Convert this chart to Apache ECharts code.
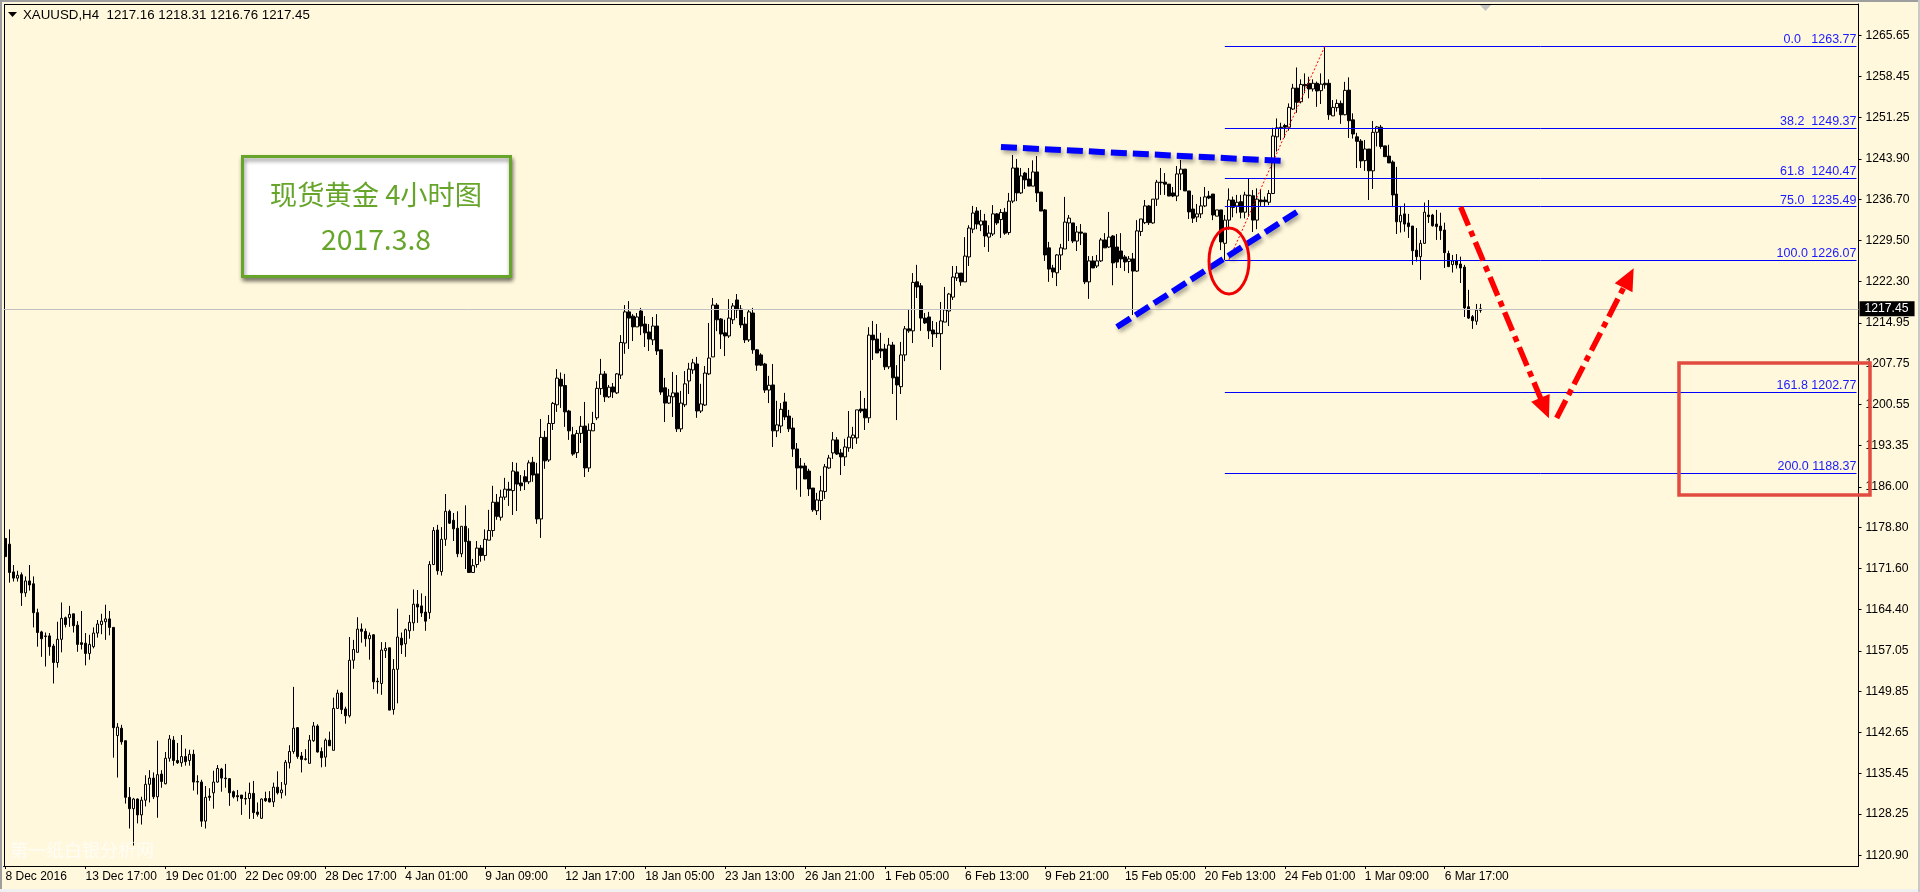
<!DOCTYPE html>
<html><head><meta charset="utf-8">
<style>html,body{margin:0;padding:0;background:#FFF8DC;overflow:hidden}#c{width:1920px;height:892px}</style>
<script src="https://cdn.jsdelivr.net/npm/echarts@6/dist/echarts.min.js"></script>
</head><body><div id="c"></div>
<script>
// [open, high, low, close]
const barsA=[[1176.9,1176.9,1173.7,1173.7],[1175.9,1178.5,1169.1,1170.9],[1171.0,1172.2,1169.3,1169.9],[1169.9,1171.2,1169.3,1170.4],[1170.5,1170.9,1165.0,1167.3],[1167.3,1170.2,1166.6,1169.4],[1169.4,1172.2,1167.7,1168.7],[1168.9,1170.2,1161.2,1163.8],[1163.8,1164.5,1157.8,1160.3],[1160.4,1160.6,1156.0,1159.2],[1159.7,1160.3,1154.3,1159.6],[1159.7,1160.2,1156.2,1157.8],[1157.9,1158.3,1151.3,1155.0],[1155.0,1162.2,1154.1,1159.1],[1159.1,1165.6,1156.8,1162.8],[1162.9,1163.1,1161.2,1161.7],[1162.9,1165.0,1161.3,1163.5],[1163.6,1163.6,1160.3,1161.5],[1161.6,1162.3,1156.9,1158.2],[1158.5,1164.1,1157.3,1158.2],[1158.4,1160.2,1154.5,1156.6],[1156.6,1159.9,1155.5,1158.2],[1157.8,1161.2,1157.5,1160.2],[1160.2,1162.5,1159.4,1161.8],[1161.7,1163.6,1160.0,1162.3],[1162.2,1165.2,1159.0,1162.7],[1162.7,1164.1,1159.8,1161.2],[1161.2,1161.2,1138.2,1143.5],[1142.1,1144.3,1134.7,1143.6],[1143.4,1144.0,1140.5,1141.0],[1141.2,1141.2,1130.1,1131.2],[1131.2,1133.0,1125.7,1129.2],[1129.2,1131.1,1122.7,1130.9],[1130.9,1131.0,1126.6,1128.1],[1128.1,1131.3,1126.4,1130.7],[1130.7,1135.1,1129.6,1133.5],[1133.5,1136.0,1130.3,1134.6],[1134.6,1135.6,1130.9,1131.3],[1131.3,1141.2,1127.6,1135.2],[1135.3,1136.0,1132.9,1134.0],[1133.6,1139.2,1133.5,1138.1],[1138.1,1142.2,1137.5,1141.5],[1141.3,1142.0,1136.8,1137.7],[1137.7,1140.8,1137.1,1137.3],[1137.3,1142.2,1136.6,1138.4],[1138.4,1139.8,1136.8,1137.5],[1137.7,1139.6,1136.8,1138.8],[1138.8,1139.6,1132.4,1133.9],[1134.0,1135.1,1131.7,1133.9],[1133.9,1134.3,1126.0,1127.0],[1127.0,1133.2,1125.7,1131.2],[1131.4,1132.8,1130.6,1131.2],[1132.0,1135.9,1129.2,1133.9],[1133.9,1136.9,1133.8,1136.3],[1136.2,1136.4,1132.2,1134.6],[1134.6,1137.1,1132.9,1134.5],[1134.5,1134.6,1129.7,1132.0],[1132.2,1132.4,1131.0,1131.3],[1131.5,1132.5,1130.5,1131.3],[1131.6,1131.6,1128.1,1131.0],[1131.0,1132.2,1129.9,1130.9],[1131.0,1133.8,1127.4,1131.9]];
const barsB=[[1131.9,1134.1,1127.4,1128.5],[1128.6,1130.3,1127.8,1128.2],[1127.5,1131.0,1127.4,1130.9],[1131.0,1132.2,1130.4,1130.6],[1131.0,1132.3,1130.3,1130.4],[1130.4,1133.8,1129.5,1133.0],[1133.0,1135.8,1131.7,1132.0],[1132.0,1133.9,1131.0,1132.5],[1133.5,1137.8,1131.5,1137.4],[1137.3,1140.4,1136.3,1139.3],[1139.3,1150.7,1138.9,1143.4],[1143.5,1143.6,1138.0,1138.4],[1138.5,1139.2,1135.6,1137.9],[1138.0,1139.7,1137.7,1137.9],[1137.2,1142.2,1137.2,1141.3],[1141.2,1144.5,1141.0,1143.8],[1143.8,1144.1,1139.1,1139.2],[1139.3,1140.0,1136.5,1138.2],[1138.3,1141.6,1136.6,1141.3],[1141.3,1142.8,1140.3,1140.3],[1139.5,1148.8,1139.5,1146.9],[1146.9,1150.2,1146.8,1149.6],[1149.6,1149.8,1145.9,1146.7],[1146.8,1147.2,1144.2,1145.6],[1145.6,1159.5,1145.3,1155.4],[1155.4,1159.0,1153.9,1157.3],[1156.8,1163.0,1156.8,1160.9],[1160.9,1161.9,1158.5,1160.5],[1160.5,1161.0,1157.8,1159.2],[1159.2,1160.3,1155.5,1159.8],[1159.9,1160.0,1150.3,1151.6],[1151.7,1152.3,1149.5,1151.6],[1151.3,1158.6,1149.3,1157.2],[1157.1,1158.6,1155.8,1157.5],[1157.6,1157.6,1146.6,1146.6],[1146.7,1155.6,1145.8,1153.8],[1153.8,1164.5,1147.8,1159.5],[1159.3,1160.3,1156.5,1158.1],[1158.3,1161.0,1156.0,1160.8],[1160.6,1163.4,1159.2,1162.1],[1162.0,1167.9,1160.6,1165.3],[1165.3,1167.8,1162.0,1164.8],[1165.0,1167.2,1163.05,1163.75],[1163.9,1166.75,1160.6,1162.3],[1163.8,1172.9,1162.7,1172.3],[1172.3,1178.9,1172.2,1178.3],[1178.4,1179.3,1170.5,1171.2],[1171.05,1178.9,1170.35,1176.75],[1176.75,1184.75,1175.6,1181.7],[1181.7,1182.0,1179.45,1179.6],[1180.1,1181.4,1176.45,1178.6],[1178.7,1181.7,1173.6,1174.2],[1174.2,1179.05,1173.6,1179.05],[1179.05,1182.75,1171.5,1176.35],[1176.4,1178.7,1170.9,1170.9],[1170.9,1173.3,1170.9,1172.1],[1172.3,1176.45,1171.75,1175.2],[1175.2,1175.75,1172.8,1173.9],[1173.9,1178.5,1173.0,1176.75],[1176.6,1181.95,1176.6,1178.3],[1178.3,1186.2,1177.2,1183.3],[1183.3,1184.75,1180.2,1180.8]];
const barsC=[[1180.65,1185.5,1180.05,1184.2],[1184.2,1187.6,1183.7,1185.6],[1185.6,1186.9,1182.65,1185.4],[1185.35,1190.4,1181.05,1188.8],[1188.65,1190.25,1181.75,1186.5],[1186.7,1188.1,1185.3,1186.2],[1187.8,1188.95,1185.45,1186.9],[1186.9,1190.7,1186.5,1190.25],[1190.35,1191.3,1186.9,1188.1],[1188.3,1190.25,1179.5,1180.35],[1180.35,1198.0,1177.0,1194.75],[1194.75,1195.9,1189.2,1190.6],[1190.75,1198.7,1190.4,1197.2],[1197.2,1201.0,1196.05,1200.75],[1200.5,1206.8,1199.25,1205.2],[1205.0,1206.2,1199.95,1203.8],[1203.9,1205.95,1196.6,1199.25],[1199.4,1199.6,1194.3,1195.9],[1195.2,1196.6,1191.5,1191.8],[1192.05,1196.05,1191.1,1195.45],[1195.45,1198.5,1193.75,1196.7],[1196.75,1201.0,1187.75,1189.35],[1189.35,1197.2,1188.65,1196.0],[1195.9,1199.25,1195.9,1197.2],[1198.2,1204.65,1197.8,1203.4],[1203.35,1208.6,1202.25,1205.9],[1205.95,1206.45,1201.0,1201.9],[1201.9,1204.0,1201.7,1203.6],[1203.65,1204.35,1201.7,1202.75],[1202.6,1206.1,1202.4,1205.95],[1205.75,1212.8,1205.05,1211.5],[1211.4,1218.1,1209.5,1216.9],[1216.9,1218.8,1210.35,1215.8],[1216.15,1216.5,1211.75,1214.25],[1214.25,1216.7,1214.25,1216.0],[1217.05,1217.6,1212.8,1214.4],[1214.75,1216.15,1210.7,1213.2],[1213.35,1214.75,1210.0,1212.1],[1211.95,1216.0,1211.05,1214.4],[1214.4,1216.5,1209.3,1210.0],[1210.2,1210.2,1202.25,1202.75],[1203.5,1205.25,1197.45,1200.8],[1200.8,1203.3,1200.65,1202.05],[1201.9,1206.3,1198.35,1202.6],[1202.6,1205.75,1195.7,1196.25],[1196.25,1202.95,1195.7,1200.8],[1200.5,1206.45,1200.1,1204.2],[1204.7,1207.9,1202.4,1206.8],[1206.65,1208.6,1205.95,1207.9],[1207.7,1208.95,1198.2,1199.4],[1199.4,1204.2,1199.05,1200.65],[1200.45,1207.35,1200.3,1206.1],[1205.95,1214.95,1205.75,1208.75],[1208.95,1219.35,1208.95,1218.1],[1218.1,1218.45,1213.5,1215.5],[1215.65,1215.8,1210.35,1213.0],[1213.2,1215.5,1209.1,1212.65],[1212.65,1219.15,1212.3,1215.8],[1215.5,1218.45,1214.75,1217.95],[1219.0,1220.05,1215.8,1217.25],[1217.4,1218.1,1214.05,1214.6],[1214.75,1216.0,1211.4,1211.95],[1211.95,1217.25,1211.6,1216.9]];
const barsD=[[1216.7,1217.6,1209.5,1210.2],[1210.2,1210.35,1206.5,1207.5],[1209.3,1209.6,1207.35,1207.5],[1207.7,1207.9,1202.6,1203.1],[1203.1,1205.6,1200.8,1203.95],[1204.0,1207.7,1193.05,1195.9],[1195.9,1201.2,1194.8,1196.95],[1196.75,1200.8,1195.5,1199.7],[1201.0,1202.6,1197.8,1198.35],[1198.5,1199.6,1195.7,1196.25],[1196.4,1198.2,1191.3,1192.7],[1192.7,1193.75,1185.5,1189.35],[1189.7,1191.1,1184.25,1189.35],[1189.7,1190.25,1187.4,1187.4],[1188.8,1189.2,1184.4,1185.65],[1185.8,1185.8,1181.6,1181.95],[1181.8,1184.95,1181.05,1183.7],[1183.6,1187.95,1180.15,1185.3],[1185.2,1190.05,1183.9,1189.55],[1189.35,1191.65,1189.2,1191.1],[1192.0,1195.7,1190.95,1194.3],[1194.3,1194.8,1191.65,1191.8],[1192.0,1192.7,1188.1,1191.3],[1191.3,1194.5,1189.7,1193.05],[1192.9,1199.4,1192.2,1194.8],[1194.65,1196.6,1192.7,1195.15],[1194.65,1199.6,1193.6,1199.6],[1199.75,1202.95,1199.05,1199.4],[1199.75,1201.7,1196.05,1198.2],[1198.2,1214.2,1197.3,1212.8],[1212.8,1215.3,1208.4,1211.95],[1212.1,1214.75,1209.65,1209.65],[1210.35,1213.2,1208.75,1210.0],[1210.35,1211.25,1206.65,1207.2],[1207.2,1212.3,1206.8,1211.05],[1211.05,1211.6,1202.4,1205.25],[1205.4,1207.5,1197.8,1204.0],[1203.7,1211.6,1202.4,1209.3],[1209.3,1214.4,1208.2,1213.9],[1213.9,1217.25,1213.2,1213.55],[1213.55,1223.75,1211.4,1222.1],[1222.2,1225.2,1219.35,1221.3],[1221.5,1222.0,1213.55,1215.8],[1215.8,1216.7,1214.75,1214.95],[1216.0,1216.9,1212.1,1213.55],[1213.7,1215.3,1210.7,1213.0],[1213.15,1215.1,1212.3,1213.05],[1213.05,1218.65,1206.65,1215.3],[1215.1,1221.3,1215.1,1217.25],[1217.05,1220.25,1214.4,1220.05],[1219.5,1225.0,1219.0,1223.05],[1222.9,1225.0,1222.35,1223.75],[1223.75,1223.75,1221.5,1222.2],[1222.2,1230.1,1222.2,1226.75],[1226.6,1232.2,1225.0,1231.7],[1231.5,1235.6,1230.8,1234.35],[1234.7,1235.4,1231.5,1232.4],[1232.25,1234.9,1231.15,1232.95],[1232.95,1234.2,1228.35,1230.3],[1230.1,1232.2,1227.5,1230.8],[1230.65,1235.75,1230.3,1234.2],[1234.2,1234.35,1232.25,1232.6]];
const barsE=[[1233.2,1235.05,1229.95,1234.45],[1234.5,1235.25,1230.5,1230.8],[1230.9,1237.9,1230.5,1236.45],[1236.45,1244.6,1236.1,1242.3],[1242.3,1243.9,1236.45,1237.9],[1237.9,1242.3,1237.7,1240.9],[1241.4,1241.6,1238.6,1240.2],[1240.35,1242.3,1239.1,1239.1],[1239.1,1243.65,1239.1,1241.6],[1241.6,1244.4,1236.3,1237.9],[1238.05,1238.05,1234.7,1234.7],[1234.9,1235.05,1225.9,1226.95],[1228.2,1229.25,1222.2,1224.45],[1224.65,1225.2,1222.9,1223.95],[1223.8,1227.1,1221.45,1226.95],[1226.95,1228.9,1224.3,1228.2],[1228.0,1237.2,1228.0,1232.75],[1232.6,1234.0,1229.4,1233.45],[1232.6,1232.6,1229.05,1229.4],[1229.4,1232.05,1227.65,1231.0],[1231.0,1232.4,1228.7,1230.8],[1230.8,1230.8,1221.8,1222.2],[1222.2,1226.75,1219.2,1225.9],[1225.9,1226.75,1224.65,1224.65],[1225.0,1226.95,1224.65,1225.9],[1225.9,1229.95,1225.7,1229.6],[1229.6,1230.8,1228.2,1228.2],[1228.35,1234.55,1228.2,1230.1],[1230.3,1230.45,1221.6,1225.55],[1228.35,1230.65,1224.65,1225.7],[1227.65,1230.8,1224.65,1226.25],[1226.6,1226.95,1224.1,1225.7],[1225.8,1226.75,1223.75,1226.25],[1226.25,1227.3,1216.35,1224.1],[1224.1,1233.1,1223.95,1231.2],[1231.1,1233.3,1230.3,1233.3],[1232.65,1236.65,1232.4,1235.6],[1235.6,1235.75,1232.25,1232.65],[1232.6,1236.8,1232.45,1236.8],[1236.8,1240.2,1235.6,1239.8],[1239.8,1242.3,1237.55,1239.7],[1239.8,1241.4,1237.55,1239.45],[1239.45,1239.45,1237.35,1237.35],[1237.9,1238.95,1237.15,1237.35],[1237.35,1242.65,1236.45,1241.25],[1241.25,1243.7,1238.4,1242.1],[1242.1,1242.1,1238.25,1238.25],[1238.25,1238.25,1233.3,1234.55],[1235.05,1237.55,1232.6,1233.45],[1233.65,1235.95,1232.75,1234.2],[1234.2,1237.2,1233.45,1235.6],[1235.6,1238.95,1235.4,1237.2],[1237.35,1238.25,1236.8,1237.0],[1237.7,1237.7,1233.1,1234.0],[1233.8,1234.9,1233.8,1234.9],[1234.9,1234.9,1227.8,1229.25],[1229.0,1234.0,1226.07,1233.1],[1233.1,1238.7,1231.4,1236.65],[1236.65,1237.25,1233.6,1235.35],[1235.6,1237.55,1234.3,1236.25],[1236.35,1237.55,1233.4,1234.5],[1234.5,1238.1,1233.4,1237.55],[1237.5,1240.4,1233.7,1237.4],[1237.4,1238.4,1231.0,1233.1],[1233.1,1238.7,1231.5,1236.8],[1236.65,1238.4,1235.6,1236.35],[1236.65,1237.25,1235.6,1236.35],[1236.25,1238.4,1235.75,1237.8]];
const barsF=[[1237.8,1249.4,1237.7,1247.95],[1247.8,1251.05,1245.2,1249.4],[1249.5,1250.3,1247.2,1249.4],[1249.8,1250.1,1247.65,1249.5],[1249.5,1253.7,1248.9,1253.0],[1252.7,1257.15,1252.55,1256.4],[1256.4,1260.05,1252.05,1253.9],[1254.0,1257.95,1253.7,1257.05],[1257.05,1259.0,1255.5,1256.8],[1257.25,1258.4,1254.6,1256.25],[1256.25,1257.95,1255.8,1257.25],[1257.25,1257.55,1253.1,1255.9],[1255.95,1259.0,1253.6,1257.1],[1257.25,1263.77,1256.3,1257.0],[1257.25,1257.95,1250.8,1251.7],[1251.5,1254.3,1251.5,1253.0],[1252.95,1254.4,1252.25,1253.7],[1253.7,1254.2,1250.1,1251.7],[1251.7,1257.5,1251.6,1256.0],[1256.05,1258.3,1247.6,1250.65],[1250.8,1251.95,1247.5,1248.3],[1247.8,1248.5,1242.3,1247.0],[1247.05,1247.4,1242.3,1243.55],[1243.6,1247.25,1241.8,1245.65],[1245.65,1245.65,1236.65,1241.8],[1241.8,1250.6,1238.6,1248.6],[1248.6,1249.7,1246.1,1249.55],[1249.5,1249.9,1245.7,1246.1],[1246.2,1246.2,1244.3,1244.3],[1244.4,1246.4,1243.2,1243.2],[1243.35,1243.65,1235.4,1237.55],[1237.7,1242.5,1230.65,1232.8],[1232.8,1235.6,1230.9,1233.95],[1234.2,1236.05,1231.05,1232.4],[1232.6,1234.2,1229.95,1231.95],[1232.05,1232.05,1225.2,1227.7],[1227.8,1231.7,1225.8,1226.65],[1226.65,1229.6,1222.55,1229.0],[1229.0,1236.2,1228.9,1234.5],[1234.0,1236.65,1232.6,1233.7],[1234.0,1234.2,1231.95,1232.1],[1232.4,1234.9,1229.6,1231.95],[1232.05,1234.4,1229.6,1231.25],[1231.35,1232.65,1224.65,1227.35],[1227.2,1227.7,1224.8,1224.9],[1225.25,1226.95,1223.85,1225.9],[1225.9,1227.1,1224.55,1225.2],[1225.35,1226.65,1222.0,1224.65],[1224.8,1225.2,1216.0,1217.6],[1217.8,1220.8,1215.65,1215.8],[1216.05,1216.35,1213.9,1215.35],[1215.25,1218.3,1214.6,1217.2],[1217.16,1218.31,1216.76,1217.45]];
const dateTicks=["8 Dec 2016","13 Dec 17:00","19 Dec 01:00","22 Dec 09:00","28 Dec 17:00","4 Jan 01:00","9 Jan 09:00","12 Jan 17:00","18 Jan 05:00","23 Jan 13:00","26 Jan 21:00","1 Feb 05:00","6 Feb 13:00","9 Feb 21:00","15 Feb 05:00","20 Feb 13:00","24 Feb 01:00","1 Mar 09:00","6 Mar 17:00"];
const priceTicks=[1265.65,1258.45,1251.25,1243.90,1236.70,1229.50,1222.30,1214.95,1207.75,1200.55,1193.35,1186.00,1178.80,1171.60,1164.40,1157.05,1149.85,1142.65,1135.45,1128.25,1120.90];
const fibPct=["0.0","38.2","61.8","75.0","100.0","161.8","200.0"];
const fibPrice=[1263.77,1249.37,1240.47,1235.49,1226.07,1202.77,1188.37];
const lastPrice=1217.45;
const FIB_START=305, FIB_END=463, SLOTS=464, TICK_STEP=20;

const allBars=[...barsA,...barsB,...barsC,...barsD,...barsE,...barsF];
const categories=Array.from({length:SLOTS},(_,i)=>i%TICK_STEP===0&&dateTicks[i/TICK_STEP]?dateTicks[i/TICK_STEP]:'');
const isTick=i=>i%TICK_STEP===0&&i/TICK_STEP<dateTicks.length;
const FONT='"Liberation Sans",Arial,sans-serif', CJK='"Noto Sans CJK SC",sans-serif';
const CREAM='#FFF8DC', BLUE='#0000FF', RED='#FF0000', GREEN='#66A52A';

const chart=echarts.init(document.getElementById('c'),null,{renderer:'canvas'});
const blueShadow={shadowColor:'rgba(0,0,0,0.35)',shadowBlur:4,shadowOffsetX:2,shadowOffsetY:3};
chart.setOption({
  animation:false,
  backgroundColor:CREAM,
  grid:{left:3.5,top:4,width:1855,height:862,containLabel:false},
  xAxis:{type:'category',data:categories,boundaryGap:true,
    axisLine:{show:true,onZero:false,lineStyle:{color:'#000',width:1}},
    axisTick:{show:true,alignWithLabel:true,length:3,interval:isTick,lineStyle:{color:'#000'}},
    axisLabel:{show:true,interval:isTick,align:'left',margin:5,color:'#000',fontFamily:FONT,fontSize:12,hideOverlap:false},
    splitLine:{show:false}},
  yAxis:{type:'value',position:'right',min:1119.08,max:1271.25,scale:true,
    axisLine:{show:true,onZero:false,lineStyle:{color:'#000',width:1}},
    axisTick:{show:true,length:3,customValues:priceTicks,lineStyle:{color:'#000'}},
    axisLabel:{show:true,margin:7,padding:[2,0,0,0],customValues:priceTicks,color:'#000',fontFamily:FONT,fontSize:12.2,formatter:v=>v.toFixed(2)},
    splitLine:{show:false}},
  series:[
    {type:'line',name:'fib',data:[],z:1,silent:true,
      markLine:{silent:true,animation:false,symbol:'none',
        lineStyle:{color:BLUE,width:1,type:'solid'},
        data:fibPrice.map((p,i)=>[
          {coord:[FIB_START,p],label:{show:true,position:'insideEndTop',distance:[0,0],color:'#1a1aff',fontFamily:FONT,fontSize:12.5,
            formatter:fibPct[i]+' '.repeat(5-fibPct[i].length+1)+p.toFixed(2)}},
          {coord:[FIB_END,p]}
        ]).concat([[
          {coord:[306,fibPrice[4]],lineStyle:{color:RED,width:1,type:[2,2]},label:{show:false}},
          {coord:[330,fibPrice[0]]}
        ]])}},
    {type:'line',name:'last',data:[],z:1,silent:true,
      markLine:{silent:true,animation:false,symbol:'none',
        lineStyle:{color:'#C0C0C0',width:1,type:'solid'},
        label:{show:true,position:'end',distance:1,color:'#fff',backgroundColor:'#000',padding:[2,6,1,5],fontFamily:FONT,fontSize:12.2,formatter:lastPrice.toFixed(2)},
        data:[{yAxis:lastPrice}]}},
    {type:'candlestick',name:'XAUUSD,H4',z:2,silent:true,barWidth:3,
      itemStyle:{color:CREAM,color0:'#000',borderColor:'#000',borderColor0:'#000',borderWidth:1},
      data:allBars.map(b=>[b[0],b[3],b[2],b[1]])},
    {type:'line',name:'trend',data:[],z:5,silent:true,
      markLine:{silent:true,animation:false,symbol:'none',label:{show:false},
        lineStyle:{color:BLUE,width:6,type:[16,6],...blueShadow},
        data:[
          [{coord:[249,1246.0]},{coord:[320,1243.53]}],
          [{coord:[278,1214.23]},{coord:[323,1234.53]}]
        ]}},
    {type:'line',name:'forecast',data:[],z:5,silent:true,
      markLine:{silent:true,animation:false,symbol:['none','triangle'],symbolSize:[20,22],label:{show:false},
        lineStyle:{color:RED,width:5.5,type:[20,6,6,6]},
        data:[
          [{coord:[364,1235.41]},{coord:[385,1199.93]}],
          [{coord:[388,1198.16]},{coord:[406,1222.88]}]
        ]}}
  ],
  graphic:{elements:[
    {type:'rect',z:1,silent:true,shape:{x:0,y:0,width:1920,height:2},style:{fill:'#9E9E9E'}},
    {type:'rect',z:1,silent:true,shape:{x:0,y:0,width:2,height:892},style:{fill:'#9E9E9E'}},
    {type:'rect',z:1,silent:true,shape:{x:0,y:889,width:1920,height:3},style:{fill:'#F0F0F0'}},
    {type:'rect',z:1,silent:true,shape:{x:1918,y:0,width:2,height:892},style:{fill:'#C8C8C8'}},
    {type:'rect',z:1,silent:true,shape:{x:4,y:4,width:1854,height:1},style:{fill:'#000'}},
    {type:'rect',z:1,silent:true,shape:{x:4,y:4,width:1,height:862},style:{fill:'#000'}},
    {type:'polygon',z:10,silent:true,shape:{points:[[8,12],[17,12],[12.5,17]]},style:{fill:'#000'}},
    {type:'polygon',z:10,silent:true,shape:{points:[[1480,5],[1491,5],[1485.5,11]]},style:{fill:'#C4C4C4'}},
    {type:'text',z:10,silent:true,x:23,y:15,style:{text:'XAUUSD,H4  1217.16 1218.31 1216.76 1217.45',fill:'#000',font:'13.3px '+FONT,verticalAlign:'middle'}},
    {type:'text',z:10,silent:true,x:10,y:850,style:{text:'第一纸白银分析网',fill:'rgba(255,255,255,0.7)',font:'18px '+CJK,verticalAlign:'middle'}},
    {type:'rect',z:20,silent:true,shape:{x:242.5,y:156.5,width:268,height:120},style:{fill:'#fff',stroke:GREEN,lineWidth:3,shadowColor:'rgba(0,0,0,0.45)',shadowBlur:4,shadowOffsetX:1,shadowOffsetY:3}},
    {type:'text',z:21,silent:true,x:376,y:195,style:{text:'现货黄金 4小时图',fill:GREEN,font:'27.3px '+CJK,align:'center',verticalAlign:'middle'}},
    {type:'text',z:21,silent:true,x:376,y:239,style:{text:'2017.3.8',fill:GREEN,font:'28.3px '+CJK,align:'center',verticalAlign:'middle'}},
    {type:'ellipse',z:20,silent:true,shape:{cx:1229,cy:261,rx:20,ry:33},style:{fill:'none',stroke:'#F00000',lineWidth:3}},
    {type:'rect',z:20,silent:true,shape:{x:1679,y:363,width:191,height:132},style:{fill:'none',stroke:'#E24C40',lineWidth:3.5}}
  ]}
});
</script></body></html>
